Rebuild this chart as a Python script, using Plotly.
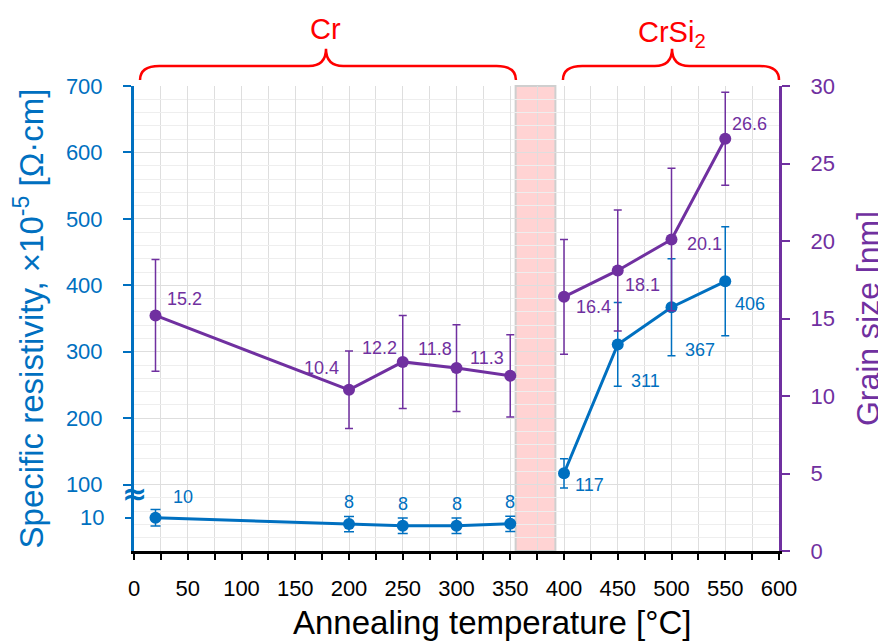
import plotly.graph_objects as go

# ---------------- data ----------------
temps_cr = [20, 200, 250, 300, 350]
temps_si = [400, 450, 500, 550]

res_cr = [10, 8.1, 7.6, 7.6, 8.2]          # x10^-5 Ohm*cm (lower, broken-axis segment)
res_cr_err = [2.5, 2.3, 2.3, 2.3, 2.3]
res_si = [117, 311, 367, 406]
res_si_err = [22, 63, 73, 82]

grain_cr = [15.2, 10.4, 12.2, 11.8, 11.3]  # nm
grain_cr_err = [3.6, 2.5, 3.0, 2.8, 2.65]
grain_si = [16.4, 18.1, 20.1, 26.6]
grain_si_err = [3.7, 3.9, 4.6, 3.0]

x_ticks = list(range(0, 601, 50))
res_ticks = [100, 200, 300, 400, 500, 600, 700]
res_low_ticks = [10]
grain_ticks = [0, 5, 10, 15, 20, 25, 30]

band = [355, 392]          # transition region (°C)
brace_cr = [5.6, 178.6, 355.3]
brace_si = [399, 500.5, 600]

x_title = "Annealing temperature [°C]"
y_title = "Specific resistivity, ×10<sup>-5</sup> [Ω·cm]"
y2_title = "Grain size [nm]"

# ---------------- styles ----------------
BLUE = "#0070C0"
PURPLE = "#7030A0"
RED = "#FF0000"
FONT = "Liberation Sans, Arial, sans-serif"
XMAX = 600

# label offsets (px): (xanchor, xshift, yshift)
lab_grain_cr = [("left", 9, 16), ("right", -8, 22), ("right", -4, 14), ("right", -3, 19), ("right", -4, 18)]
lab_grain_si = [("left", 10, -10), ("left", 5, -15), ("left", 13, -5), ("left", 5, 15)]
lab_res_cr = [("left", 15, 21), ("center", 0, 22), ("center", 0, 22), ("center", 0, 22), ("center", 0, 22)]
lab_res_si = [("left", 9, -12), ("left", 11, -37), ("left", 11, -43), ("left", 8, -23)]

fig = go.Figure()


def add_series(x, y, err, color, yaxis, capw):
    fig.add_trace(go.Scatter(
        x=x, y=y, yaxis=yaxis, mode="lines+markers",
        line=dict(color=color, width=3),
        marker=dict(color=color, size=12),
        error_y=dict(type="data", array=err, visible=True, color=color,
                     thickness=1.5, width=capw),
        showlegend=False, hoverinfo="skip"))


add_series(temps_cr, grain_cr, grain_cr_err, PURPLE, "y2", 4)
add_series(temps_si, grain_si, grain_si_err, PURPLE, "y2", 4)
add_series(temps_cr, res_cr, res_cr_err, BLUE, "y3", 5)
add_series(temps_si, res_si, res_si_err, BLUE, "y", 4)

annotations = []


def add_labels(x, y, fmt, offsets, color, yref):
    for xi, yi, (xa, xs, ys) in zip(x, y, offsets):
        annotations.append(dict(
            x=xi, y=yi, xref="x", yref=yref, text=fmt(yi), showarrow=False,
            xanchor=xa, yanchor="middle", xshift=xs, yshift=ys,
            font=dict(family=FONT, size=18, color=color)))


add_labels(temps_cr, grain_cr, lambda v: f"{v:.1f}", lab_grain_cr, PURPLE, "y2")
add_labels(temps_si, grain_si, lambda v: f"{v:.1f}", lab_grain_si, PURPLE, "y2")
add_labels(temps_cr, res_cr, lambda v: f"{round(v)}", lab_res_cr, BLUE, "y3")
add_labels(temps_si, res_si, lambda v: f"{round(v)}", lab_res_si, BLUE, "y")

# phase labels
for txt, b, yy in [("Cr", brace_cr, 1.122), ("CrSi<sub>2</sub>", brace_si, 1.112)]:
    annotations.append(dict(x=b[1] / XMAX, y=yy, xref="paper", yref="paper",
                            text=txt, showarrow=False, xanchor="center", yanchor="middle",
                            font=dict(family=FONT, size=29, color=RED)))

# x-axis title (placed as in the reference, slightly right of centre)
annotations.append(dict(x=0.555, y=-0.153, xref="paper", yref="paper", text=x_title,
                        showarrow=False, xanchor="center", yanchor="middle",
                        font=dict(family=FONT, size=33, color="black")))

# axis break symbol
annotations.append(dict(x=0, y=86, xref="paper", yref="y", text="<b>≈</b>", showarrow=False,
                        xanchor="center", yanchor="middle", borderpad=0,
                        font=dict(family="DejaVu Sans, sans-serif", size=30, color=BLUE)))


def brace_path(b, yb=1.0129, ym=1.043, yt=1.08, a=18.0, c=16.0):
    x0, xm, x1 = (v / XMAX for v in b)
    a /= XMAX
    c /= XMAX
    return (f"M {x0},{yb} Q {x0},{ym} {x0 + a},{ym} L {xm - c},{ym} "
            f"Q {xm},{ym} {xm},{yt} Q {xm},{ym} {xm + c},{ym} "
            f"L {x1 - a},{ym} Q {x1},{ym} {x1},{yb}")


shapes = [
    dict(type="rect", xref="x", yref="paper", x0=band[0], x1=band[1], y0=0, y1=1,
         fillcolor="#FFD3D3", line=dict(color="#CFCFCF", width=2), layer="below"),
    dict(type="path", xref="paper", yref="paper", path=brace_path(brace_cr),
         line=dict(color=RED, width=2.5)),
    dict(type="path", xref="paper", yref="paper", path=brace_path(brace_si),
         line=dict(color=RED, width=2.5)),
]

GRID = "#DEDEDE"
MINOR = "#EEEEEE"

# the page body adds an 8px offset; the figure is sized so the plot area lands at 134..779 x 86..551
fig.update_layout(
    width=878, height=633,
    margin=dict(l=126, r=107, t=78, b=90, autoexpand=False),
    paper_bgcolor="white", plot_bgcolor="white",
    showlegend=False,
    annotations=annotations, shapes=shapes,
    xaxis=dict(range=[0, XMAX], tickvals=x_ticks, ticks="outside", ticklen=6, tickwidth=2,
               tickcolor="black", showline=True, linecolor="black", linewidth=3,
               showgrid=True, gridcolor=GRID, zeroline=False, automargin=False,
               minor=dict(dtick=25, tick0=0, ticks="outside", ticklen=6, tickwidth=2,
                          tickcolor="black", showgrid=True, gridcolor=GRID),
               tickfont=dict(family=FONT, size=22, color="black"), ticklabelstandoff=10),
    yaxis=dict(range=[0, 700], tickvals=res_ticks, ticks="outside", ticklen=8, tickwidth=2,
               tickcolor=BLUE, showline=True, linecolor=BLUE, linewidth=3,
               showgrid=True, gridcolor=GRID, zeroline=False, automargin=False,
               minor=dict(dtick=20, tick0=0, showgrid=True, gridcolor=MINOR),
               tickfont=dict(family=FONT, size=22, color=BLUE), ticklabelstandoff=16,
               title=dict(text=y_title, standoff=17,
                          font=dict(family=FONT, size=33, color=BLUE))),
    yaxis2=dict(range=[0, 30], tickvals=grain_ticks, overlaying="y", side="right", anchor="x",
                ticks="outside", ticklen=8, tickwidth=2, tickcolor=PURPLE, automargin=False,
                showline=True, linecolor=PURPLE, linewidth=3, showgrid=False, zeroline=False,
                tickfont=dict(family=FONT, size=22, color=PURPLE), ticklabelstandoff=16,
                title=dict(text=y2_title, standoff=24,
                           font=dict(family=FONT, size=32, color=PURPLE))),
    yaxis3=dict(range=[0, 140], tickvals=res_low_ticks, overlaying="y", side="left", anchor="x",
                ticks="outside", ticklen=8, tickwidth=2, tickcolor=BLUE, automargin=False,
                showline=False, showgrid=False, zeroline=False,
                tickfont=dict(family=FONT, size=22, color=BLUE), ticklabelstandoff=16),
)

fig.write_html("out.html")
